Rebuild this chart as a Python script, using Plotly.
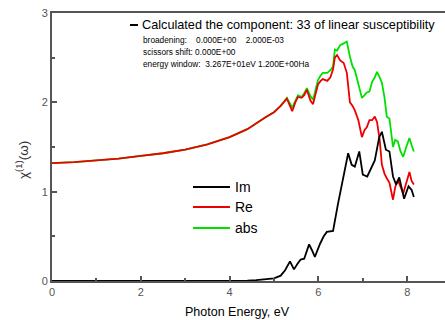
import plotly.graph_objects as go

# Photon energy grid (eV) for the Re / abs curves
energy = [0, 0.5, 1, 1.5, 2, 2.5, 3, 3.5, 4, 4.4, 4.8, 5.0, 5.15, 5.29, 5.41, 5.48, 5.54,
          5.62, 5.68, 5.74, 5.82, 5.88, 5.94, 5.99, 6.05, 6.10, 6.20, 6.27, 6.33, 6.37,
          6.42, 6.49, 6.57, 6.64, 6.71, 6.77, 6.82, 6.90, 6.98, 7.04, 7.09, 7.15, 7.21,
          7.27, 7.32, 7.38, 7.43, 7.49, 7.54, 7.60, 7.68, 7.73, 7.79, 7.85, 7.91, 7.98,
          8.05, 8.10, 8.15]

chi_abs = [1.32, 1.33, 1.35, 1.37, 1.40, 1.43, 1.47, 1.53, 1.61, 1.70, 1.83, 1.89, 1.96,
           2.05, 1.94, 2.02, 2.08, 2.06, 2.10, 2.16, 2.07, 2.03, 2.15, 2.25, 2.30, 2.33,
           2.33, 2.36, 2.40, 2.59, 2.58, 2.64, 2.66, 2.68, 2.51, 2.40, 2.36, 2.22, 2.05,
           2.08, 2.11, 2.12, 2.23, 2.28, 2.34, 2.28, 2.22, 2.05, 1.84, 1.82, 1.50, 1.58,
           1.56, 1.45, 1.39, 1.50, 1.60, 1.52, 1.45]

chi_re = [1.32, 1.33, 1.35, 1.37, 1.40, 1.43, 1.47, 1.53, 1.61, 1.70, 1.83, 1.89, 1.96,
          2.04, 1.90, 2.00, 2.06, 2.05, 2.08, 2.14, 2.02, 1.98, 2.10, 2.20, 2.24, 2.26,
          2.24, 2.28, 2.37, 2.50, 2.53, 2.47, 2.44, 2.33, 2.00, 1.96, 1.91, 1.80, 1.61,
          1.69, 1.72, 1.80, 1.80, 1.84, 1.78, 1.58, 1.30, 1.20, 1.15, 1.10, 0.91, 1.05,
          1.13, 1.05, 0.98, 1.10, 1.22, 1.12, 1.08]

# Imaginary part, own energy grid
energy_im = [0, 1, 2, 3, 4, 4.4, 4.6, 4.8, 5.0, 5.15, 5.25, 5.36, 5.45, 5.54, 5.60, 5.68,
             5.79, 5.85, 5.92, 6.04, 6.12, 6.19, 6.33, 6.44, 6.55, 6.67, 6.75, 6.82, 6.92,
             7.0, 7.10, 7.20, 7.27, 7.37, 7.43, 7.52, 7.60, 7.68, 7.75, 7.82, 7.93, 8.03,
             8.10, 8.15]
chi_im = [0, 0, 0, 0, 0.002, 0.005, 0.01, 0.02, 0.03, 0.06, 0.12, 0.22, 0.13, 0.20, 0.24,
          0.25, 0.41, 0.35, 0.27, 0.42, 0.50, 0.55, 0.56, 0.86, 1.12, 1.43, 1.30, 1.28,
          1.45, 1.19, 1.17, 1.27, 1.35, 1.61, 1.67, 1.47, 1.45, 1.17, 1.08, 1.16, 0.92,
          1.06, 1.02, 0.94]

series_names = ["Im", "Re", "abs"]
series_colors = ["#000000", "#ee0000", "#00e000"]

NB = "\u00a0"
title_text = "Calculated the component: 33 of linear susceptibility"
info_lines = ["broadening:" + NB * 4 + "0.000E+00" + NB * 4 + "2.000E-03",
              "scissors shift: 0.000E+00",
              "energy window:" + NB * 2 + "3.267E+01eV 1.200E+00Ha"]

FONT = "Liberation Sans, Arial, sans-serif"
W, H = 445, 320
L, R, T, B = 52, 0, 13, 39
pw, ph = W - L - R, H - T - B


def px(x):
    return (x - L) / pw


def py(y):
    return (H - B - y) / ph


fig = go.Figure()
fig.add_trace(go.Scatter(x=energy, y=chi_abs, mode="lines", line=dict(color=series_colors[2], width=1.8),
                         name="abs", showlegend=False))
fig.add_trace(go.Scatter(x=energy, y=chi_re, mode="lines", line=dict(color=series_colors[1], width=1.8),
                         name="Re", showlegend=False))
fig.add_trace(go.Scatter(x=energy_im, y=chi_im, mode="lines", line=dict(color=series_colors[0], width=1.8),
                         name="Im", showlegend=False))

axis_common = dict(showline=True, linecolor="#555555", linewidth=2, ticks="inside",
                   tickcolor="#555555", tickwidth=1.5, ticklen=5, showgrid=False, zeroline=False,
                   tickfont=dict(family=FONT, size=11, color="#555555"))

fig.update_xaxes(range=[0, pw / 44.4], dtick=2, tick0=0, mirror=True,
                 minor=dict(ticks="inside", dtick=1, tick0=0, ticklen=3, tickcolor="#555555"),
                 **axis_common)
fig.update_yaxes(range=[0, 3], dtick=1, tick0=0,
                 minor=dict(ticks="inside", dtick=0.5, tick0=0, ticklen=3, tickcolor="#555555"),
                 **axis_common)

shapes = []
annotations = []

# header entry
shapes.append(dict(type="line", xref="paper", yref="paper", x0=px(130), x1=px(138),
                   y0=py(25), y1=py(25), line=dict(color="black", width=2)))
annotations.append(dict(xref="paper", yref="paper", x=px(140), y=py(25), text=title_text,
                        showarrow=False, xanchor="left", yanchor="middle",
                        font=dict(family=FONT, size=12.7, color="black")))
for txt, yy in zip(info_lines, [40, 52, 64]):
    annotations.append(dict(xref="paper", yref="paper", x=px(141), y=py(yy), text=txt,
                            showarrow=False, xanchor="left", yanchor="middle",
                            font=dict(family=FONT, size=8.3, color="black")))

# custom legend
for name, col, yy in zip(series_names, series_colors, [187, 207, 228]):
    shapes.append(dict(type="line", xref="paper", yref="paper", x0=px(193), x1=px(230),
                       y0=py(yy), y1=py(yy), line=dict(color=col, width=2)))
    annotations.append(dict(xref="paper", yref="paper", x=px(233), y=py(yy), text=name,
                            showarrow=False, xanchor="left", yanchor="middle",
                            font=dict(family=FONT, size=14, color="black")))

# axis titles
annotations.append(dict(xref="paper", yref="paper", x=px(237), y=py(312), text="Photon Energy, eV",
                        showarrow=False, xanchor="center", yanchor="middle",
                        font=dict(family=FONT, size=12.5, color="black")))
annotations.append(dict(xref="paper", yref="paper", x=px(22), y=py(160),
                        text="χ<sup>(1)</sup>(ω)", textangle=-90,
                        showarrow=False, xanchor="center", yanchor="middle",
                        font=dict(family=FONT, size=13.5, color="#333333")))

fig.update_layout(width=W, height=H, margin=dict(l=L, r=R, t=T, b=B),
                  paper_bgcolor="white", plot_bgcolor="white",
                  shapes=shapes, annotations=annotations, showlegend=False)

fig.write_html("out.html")
